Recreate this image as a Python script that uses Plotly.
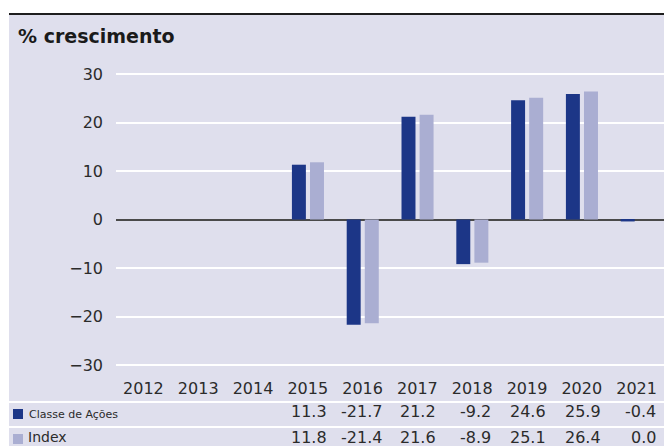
import plotly.graph_objects as go

# Annual growth (%) per year
years = ["2012", "2013", "2014", "2015", "2016", "2017", "2018", "2019", "2020", "2021"]
classe_acoes = [None, None, None, 11.3, -21.7, 21.2, -9.2, 24.6, 25.9, -0.4]
index_vals = [None, None, None, 11.8, -21.4, 21.6, -8.9, 25.1, 26.4, 0.0]
series_names = ["Classe de Ações", "Index"]
y_ticks = [-30, -20, -10, 0, 10, 20, 30]

# Styling
BG = "#dfdfed"
DARK = "#1c3687"
LIGHT = "#aaaed2"
TEXT = "#2b2b2b"
FONT = "DejaVu Sans"

W, H = 664, 446
L, R, T, B = 116, 0, 60, 71
PW, PH = W - L - R, H - T - B


def px_x(px):
    """Pixel x -> paper x."""
    return (px - L) / PW


def px_y(py):
    """Pixel y (from top) -> paper y."""
    return (H - B - py) / PH


BAR_W = 0.255
fig = go.Figure()
fig.add_trace(go.Bar(x=years, y=classe_acoes, name=series_names[0], width=BAR_W, offset=-0.29,
                     marker=dict(color=DARK, line=dict(width=0))))
fig.add_trace(go.Bar(x=years, y=index_vals, name=series_names[1], width=BAR_W, offset=0.04,
                     marker=dict(color=LIGHT, line=dict(width=0))))

shapes = [
    # white margins around the tinted panel
    dict(type="rect", xref="paper", yref="paper", x0=px_x(0), x1=px_x(W),
         y0=px_y(13), y1=px_y(0), fillcolor="white", line=dict(width=0), layer="above"),
    dict(type="rect", xref="paper", yref="paper", x0=px_x(0), x1=px_x(9),
         y0=px_y(H), y1=px_y(0), fillcolor="white", line=dict(width=0), layer="above"),
    # top rule
    dict(type="line", xref="paper", yref="paper", x0=px_x(9), x1=px_x(W),
         y0=px_y(14), y1=px_y(14), line=dict(color="#1e1e1e", width=2), layer="above"),
    # table separators
    dict(type="line", xref="paper", yref="paper", x0=px_x(9), x1=px_x(W),
         y0=px_y(402), y1=px_y(402), line=dict(color="white", width=2), layer="above"),
    dict(type="line", xref="paper", yref="paper", x0=px_x(9), x1=px_x(W),
         y0=px_y(427), y1=px_y(427), line=dict(color="white", width=2), layer="above"),
    # legend swatches
    dict(type="rect", xref="paper", yref="paper", x0=px_x(13), x1=px_x(23),
         y0=px_y(419), y1=px_y(409), fillcolor=DARK, line=dict(width=0), layer="above"),
    dict(type="rect", xref="paper", yref="paper", x0=px_x(13), x1=px_x(23),
         y0=px_y(444), y1=px_y(434), fillcolor=LIGHT, line=dict(width=0), layer="above"),
]

annotations = [
    dict(text="<b>% crescimento</b>", xref="paper", yref="paper", x=px_x(16), y=px_y(36),
         xanchor="left", yanchor="middle", showarrow=False,
         font=dict(family=FONT, size=19, color="#1a1a1a")),
    dict(text=series_names[0], xref="paper", yref="paper", x=px_x(27), y=px_y(414),
         xanchor="left", yanchor="middle", showarrow=False,
         font=dict(family=FONT, size=11, color=TEXT)),
    dict(text=series_names[1], xref="paper", yref="paper", x=px_x(26), y=px_y(437),
         xanchor="left", yanchor="middle", showarrow=False,
         font=dict(family=FONT, size=14, color=TEXT)),
]


def fmt(v):
    return "" if v is None else f"{v:.1f}"


# value table under the axis, one column per year (x given as category index)
for i, (a, b) in enumerate(zip(classe_acoes, index_vals)):
    for v, py in ((a, 411), (b, 437)):
        if v is None:
            continue
        annotations.append(dict(text=fmt(v), xref="x", yref="paper", x=i, y=px_y(py),
                                xshift=21, xanchor="right", yanchor="middle", showarrow=False,
                                font=dict(family=FONT, size=16, color=TEXT)))

fig.update_layout(
    width=W, height=H,
    margin=dict(l=L, r=R, t=T, b=B, pad=0),
    paper_bgcolor=BG, plot_bgcolor=BG,
    barmode="group",
    showlegend=False,
    font=dict(family=FONT, size=16, color=TEXT),
    shapes=shapes, annotations=annotations,
    xaxis=dict(type="category", range=[-0.5, 9.5], showgrid=False, zeroline=False,
               showline=False, ticks="", tickfont=dict(family=FONT, size=16, color=TEXT),
               ticklabelstandoff=2),
    yaxis=dict(range=[-32.06, 32.89], tickvals=y_ticks, showgrid=True,
               gridcolor="white", gridwidth=1.5, zeroline=True, zerolinecolor="#4a4a4a",
               zerolinewidth=1.5, showline=False, ticks="",
               tickfont=dict(family=FONT, size=16, color=TEXT), ticklabelstandoff=12),
)

fig.write_html("out.html")
